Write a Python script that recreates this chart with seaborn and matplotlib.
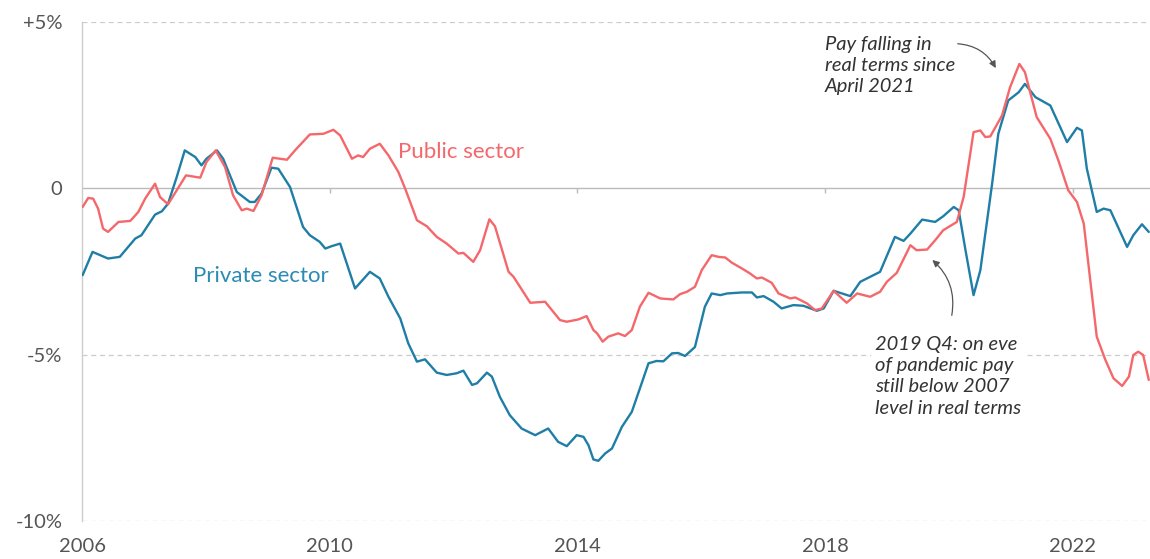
import matplotlib
matplotlib.use("Agg")
import matplotlib.pyplot as plt
import seaborn as sns
import pandas as pd

# Real pay growth vs 2007 level, %
private_years = [
    2006.01, 2006.17, 2006.42, 2006.61, 2006.86, 2006.96, 2007.18, 2007.29, 2007.39, 2007.53,
    2007.66, 2007.83, 2007.93, 2008.01, 2008.18, 2008.28, 2008.50, 2008.71, 2008.79, 2008.90,
    2009.06, 2009.17, 2009.36, 2009.57, 2009.68, 2009.84, 2009.93, 2010.03, 2010.17, 2010.41,
    2010.65, 2010.81, 2010.95, 2011.14, 2011.27, 2011.41, 2011.54, 2011.73, 2011.89, 2012.05,
    2012.16, 2012.30, 2012.38, 2012.54, 2012.62, 2012.75, 2012.91, 2013.10, 2013.32, 2013.53,
    2013.69, 2013.83, 2013.99, 2014.10, 2014.18, 2014.26, 2014.34, 2014.45, 2014.56, 2014.72,
    2014.88, 2015.01, 2015.15, 2015.28, 2015.39, 2015.53, 2015.63, 2015.74, 2015.90, 2016.06,
    2016.17, 2016.31, 2016.42, 2016.66, 2016.82, 2016.90, 2017.01, 2017.17, 2017.30, 2017.49,
    2017.65, 2017.87, 2017.98, 2018.14, 2018.41, 2018.57, 2018.73, 2018.89, 2019.13, 2019.27,
    2019.38, 2019.57, 2019.78, 2019.91, 2020.08, 2020.16, 2020.27, 2020.40, 2020.51, 2020.70,
    2020.80, 2020.96, 2021.13, 2021.23, 2021.40, 2021.64, 2021.91, 2022.07, 2022.15, 2022.23,
    2022.39, 2022.50, 2022.61, 2022.88, 2022.98, 2023.12, 2023.23,
]
private_pay = [
    -2.61, -1.91, -2.11, -2.06, -1.51, -1.41, -0.79, -0.69, -0.46, 0.34,
    1.14, 0.94, 0.69, 0.89, 1.14, 0.89, -0.11, -0.41, -0.41, -0.16,
    0.62, 0.59, 0.04, -1.16, -1.41, -1.61, -1.81, -1.74, -1.66, -3.01,
    -2.51, -2.71, -3.26, -3.91, -4.66, -5.21, -5.14, -5.54, -5.61, -5.56,
    -5.48, -5.91, -5.86, -5.54, -5.66, -6.27, -6.82, -7.22, -7.42, -7.22,
    -7.62, -7.75, -7.42, -7.47, -7.72, -8.15, -8.19, -7.97, -7.82, -7.17,
    -6.72, -6.02, -5.26, -5.19, -5.20, -4.96, -4.95, -5.04, -4.77, -3.56,
    -3.16, -3.21, -3.16, -3.13, -3.13, -3.28, -3.24, -3.41, -3.61, -3.51,
    -3.53, -3.68, -3.61, -3.08, -3.24, -2.81, -2.66, -2.51, -1.46, -1.58,
    -1.36, -0.94, -1.01, -0.84, -0.56, -0.66, -1.86, -3.21, -2.46, 0.14,
    1.64, 2.64, 2.89, 3.14, 2.74, 2.49, 1.39, 1.82, 1.74, 0.59,
    -0.71, -0.61, -0.66, -1.76, -1.41, -1.08, -1.31,
]

public_years = [
    2006.01, 2006.10, 2006.18, 2006.26, 2006.34, 2006.42, 2006.59, 2006.78, 2006.91, 2007.02,
    2007.18, 2007.26, 2007.39, 2007.53, 2007.68, 2007.91, 2008.01, 2008.16, 2008.31, 2008.44,
    2008.58, 2008.66, 2008.77, 2008.90, 2009.08, 2009.31, 2009.44, 2009.68, 2009.90, 2010.06,
    2010.17, 2010.36, 2010.46, 2010.54, 2010.65, 2010.81, 2010.95, 2011.11, 2011.22, 2011.41,
    2011.57, 2011.73, 2011.89, 2012.08, 2012.16, 2012.32, 2012.43, 2012.58, 2012.67, 2012.89,
    2012.97, 2013.24, 2013.48, 2013.72, 2013.83, 2014.02, 2014.15, 2014.26, 2014.32, 2014.41,
    2014.50, 2014.66, 2014.77, 2014.88, 2015.01, 2015.15, 2015.34, 2015.55, 2015.66, 2015.77,
    2015.90, 2016.01, 2016.17, 2016.28, 2016.39, 2016.50, 2016.66, 2016.79, 2016.90, 2016.98,
    2017.14, 2017.25, 2017.44, 2017.52, 2017.71, 2017.84, 2017.95, 2018.14, 2018.35, 2018.52,
    2018.73, 2018.89, 2019.00, 2019.16, 2019.38, 2019.48, 2019.65, 2019.78, 2019.91, 2020.13,
    2020.24, 2020.40, 2020.51, 2020.59, 2020.67, 2020.86, 2020.99, 2021.14, 2021.23, 2021.42,
    2021.64, 2021.77, 2021.93, 2022.07, 2022.18, 2022.39, 2022.53, 2022.66, 2022.80, 2022.91,
    2022.98, 2023.06, 2023.14, 2023.23,
]
public_pay = [
    -0.56, -0.29, -0.31, -0.61, -1.21, -1.31, -1.01, -0.98, -0.71, -0.31,
    0.14, -0.26, -0.48, -0.06, 0.39, 0.32, 0.79, 1.14, 0.64, -0.21,
    -0.66, -0.61, -0.68, -0.21, 0.92, 0.86, 1.14, 1.62, 1.64, 1.76,
    1.59, 0.89, 0.99, 0.94, 1.19, 1.34, 0.99, 0.49, -0.01, -0.96,
    -1.14, -1.46, -1.66, -1.96, -1.94, -2.21, -1.86, -0.93, -1.14, -2.51,
    -2.66, -3.44, -3.41, -3.96, -4.01, -3.94, -3.84, -4.26, -4.36, -4.61,
    -4.46, -4.36, -4.44, -4.26, -3.56, -3.14, -3.31, -3.34, -3.18, -3.11,
    -2.96, -2.46, -2.01, -2.06, -2.08, -2.24, -2.41, -2.56, -2.71, -2.68,
    -2.84, -3.16, -3.31, -3.28, -3.46, -3.66, -3.61, -3.08, -3.44, -3.16,
    -3.26, -3.11, -2.81, -2.54, -1.71, -1.86, -1.84, -1.56, -1.26, -1.01,
    -0.26, 1.69, 1.74, 1.54, 1.56, 2.19, 3.04, 3.74, 3.49, 2.14,
    1.49, 0.84, -0.06, -0.41, -1.06, -4.46, -5.16, -5.71, -5.94, -5.66,
    -5.01, -4.91, -5.01, -5.76,
]

year_ticks = [2006, 2010, 2014, 2018, 2022]
y_ticks = [5, 0, -5, -10]
y_labels = ["+5%", "0", "-5%", "-10%"]

BLUE = "#1f7ea6"
RED = "#f4676b"
GREY = "#555555"

df = pd.concat([
    pd.DataFrame({"year": private_years, "pay": private_pay, "sector": "Private sector"}),
    pd.DataFrame({"year": public_years, "pay": public_pay, "sector": "Public sector"}),
])

sns.set_style("white")
plt.rcParams["font.family"] = ["Lato", "DejaVu Sans"]

fig = plt.figure(figsize=(11.5, 5.59), dpi=100)
ax = fig.add_axes([82 / 1150, 1 - 521 / 559, 1 - 82 / 1150, (521 - 22) / 559])

# grid lines
for v in y_ticks:
    if v == 0:
        ax.axhline(v, color="#bbbbbb", lw=1.0, zorder=1)
    else:
        ax.axhline(v, color="#cccccc", lw=0.9, ls=(0, (4, 3)), zorder=1)
ax.vlines(year_ticks[1:], -0.15, 0, color="#bbbbbb", lw=1.0, zorder=1)

sns.lineplot(data=df, x="year", y="pay", hue="sector", estimator=None, sort=False,
             palette={"Private sector": BLUE, "Public sector": RED},
             linewidth=1.7, legend=False, ax=ax, zorder=3)

ax.set_xlim(2006, 2023.25)
ax.set_ylim(-10, 5)
ax.set_xticks(year_ticks)
ax.set_xticklabels([str(y) for y in year_ticks])
ax.set_yticks(y_ticks)
ax.set_yticklabels(y_labels)
ax.tick_params(axis="both", length=0, labelsize=14.5, labelcolor=GREY)
ax.tick_params(axis="y", pad=14)
ax.tick_params(axis="x", pad=12)
ax.set_xlabel("")
ax.set_ylabel("")
for side in ["top", "right", "bottom"]:
    ax.spines[side].set_visible(False)
ax.spines["left"].set_color("#cccccc")
ax.spines["left"].set_linewidth(1.0)

# series labels
ax.text(2011.1, 1.1, "Public sector", color=RED, fontsize=16, va="center", ha="left")
ax.text(2007.8, -2.65, "Private sector", color="#2a8bb3", fontsize=16, va="center", ha="left")

# annotations
ax.text(2018.0, 3.69, "Pay falling in\nreal terms since\nApril 2021", fontsize=14.5,
        style="italic", color="#333333", va="center", ha="left", linespacing=1.3)
ax.annotate("", xy=(2020.78, 3.54), xytext=(2020.10, 4.35),
            arrowprops=dict(arrowstyle="-|>", color="#555555", lw=0.9,
                            mutation_scale=10, connectionstyle="arc3,rad=-0.3"))
ax.text(2018.81, -5.65, "2019 Q4: on eve\nof pandemic pay\nstill below 2007\nlevel in real terms",
        fontsize=14.5, style="italic", color="#333333", va="center", ha="left", linespacing=1.3,
        bbox=dict(facecolor="white", edgecolor="none", pad=3))
ax.annotate("", xy=(2019.70, -2.10), xytext=(2020.04, -3.90),
            arrowprops=dict(arrowstyle="-|>", color="#555555", lw=0.9,
                            mutation_scale=10, connectionstyle="arc3,rad=0.3"))

fig.savefig("out.png", dpi=100)
